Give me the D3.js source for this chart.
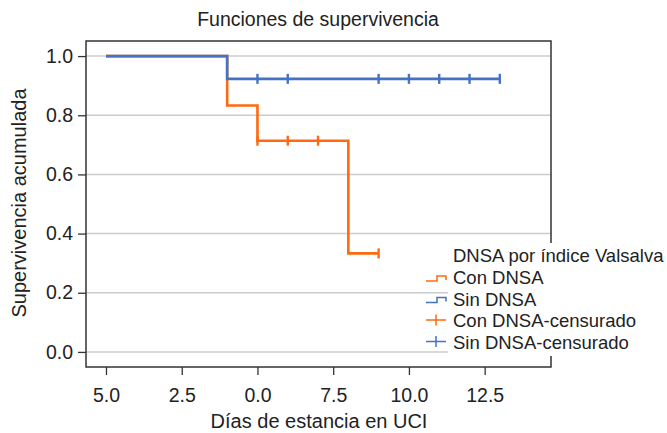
<!DOCTYPE html>
<html>
<head>
<meta charset="utf-8">
<script src="https://cdn.jsdelivr.net/npm/d3@7"></script>
<style>
  html, body { margin: 0; padding: 0; background: #fff; }
  svg { display: block; font-family: "Liberation Sans", Arial, Helvetica, sans-serif; }
</style>
</head>
<body>
<svg id="chart" width="667" height="433"></svg>
<script>
// Kaplan-Meier step data (time in days, cumulative survival)
const conTimes = [0, 4, 4, 5, 5, 8, 8, 9];
const conSurv  = [1.0, 1.0, 0.833, 0.833, 0.714, 0.714, 0.333, 0.333];
const sinTimes = [0, 4, 4, 13];
const sinSurv  = [1.0, 1.0, 0.923, 0.923];

// Censored observations
const conCensTimes = [5, 6, 7, 9];
const conCensSurv  = [0.714, 0.714, 0.714, 0.333];
const sinCensTimes = [5, 6, 9, 10, 11, 12, 13];
const sinCensSurv  = [0.923, 0.923, 0.923, 0.923, 0.923, 0.923, 0.923];

// Axis ticks
const xTickValues = [0, 2.5, 5, 7.5, 10, 12.5];
const xTickLabels = ["5.0", "2.5", "0.0", "7.5", "10.0", "12.5"];
const yTickValues = [0, 0.2, 0.4, 0.6, 0.8, 1.0];

const legendTitle = "DNSA por índice Valsalva";
const legendItems = ["Con DNSA", "Sin DNSA", "Con DNSA-censurado", "Sin DNSA-censurado"];

const ORANGE = "#ff6a10";
const BLUE = "#4472c4";
const TEXT = "#222";
const FONT = "'Liberation Sans', Arial, Helvetica, sans-serif";

const svg = d3.select("#chart");
const plotL = 86, plotR = 551, plotT = 41, plotB = 367;

const x = d3.scaleLinear().domain([-0.66, 14.69]).range([plotL, plotR]);
const y = d3.scaleLinear().domain([-0.051, 1.051]).range([plotB, plotT]);

// Title
svg.append("text")
  .attr("x", 318).attr("y", 26)
  .attr("text-anchor", "middle")
  .attr("font-size", 19.5).attr("fill", TEXT)
  .text("Funciones de supervivencia");

// Grid lines
svg.append("g").selectAll("line").data(yTickValues).join("line")
  .attr("x1", plotL).attr("x2", plotR)
  .attr("y1", d => y(d)).attr("y2", d => y(d))
  .attr("stroke", "#cccccc").attr("stroke-width", 1.5);

// Y axis
const yAxis = svg.append("g")
  .attr("transform", `translate(${plotL},0)`)
  .call(d3.axisLeft(y).tickValues(yTickValues).tickFormat(d3.format(".1f")).tickSize(8).tickSizeOuter(0));
yAxis.select(".domain").remove();
yAxis.selectAll(".tick line").attr("stroke", "#333").attr("stroke-width", 1.3);
yAxis.selectAll(".tick text")
  .attr("font-size", 19.5).attr("fill", TEXT)
  .attr("font-family", FONT)
  .attr("x", -13);

// X axis
const xAxis = svg.append("g")
  .attr("transform", `translate(0,${plotB})`)
  .call(d3.axisBottom(x).tickValues(xTickValues)
    .tickFormat((d, i) => xTickLabels[i]).tickSize(8).tickSizeOuter(0));
xAxis.select(".domain").remove();
xAxis.selectAll(".tick line").attr("stroke", "#333").attr("stroke-width", 1.3);
xAxis.selectAll(".tick text")
  .attr("font-size", 19.5).attr("fill", TEXT)
  .attr("font-family", FONT)
  .attr("y", 35).attr("dy", 0);

// Axis titles
svg.append("text")
  .attr("x", 319).attr("y", 428)
  .attr("text-anchor", "middle")
  .attr("font-size", 20).attr("fill", TEXT)
  .text("Días de estancia en UCI");
svg.append("text")
  .attr("transform", "translate(26,203) rotate(-90)")
  .attr("text-anchor", "middle")
  .attr("font-size", 20).attr("fill", TEXT)
  .text("Supervivencia acumulada");

// Survival curves
const line = d3.line().x(d => x(d[0])).y(d => y(d[1]));
svg.append("path")
  .datum(conTimes.map((t, i) => [t, conSurv[i]]))
  .attr("d", line).attr("fill", "none")
  .attr("stroke", ORANGE).attr("stroke-width", 2.6);
svg.append("path")
  .datum(sinTimes.map((t, i) => [t, sinSurv[i]]))
  .attr("d", line).attr("fill", "none")
  .attr("stroke", BLUE).attr("stroke-width", 2.6);

// Censor markers (vertical ticks)
function censor(times, surv, color) {
  svg.append("g").selectAll("line").data(times.map((t, i) => [t, surv[i]])).join("line")
    .attr("x1", d => x(d[0])).attr("x2", d => x(d[0]))
    .attr("y1", d => y(d[1]) - 5).attr("y2", d => y(d[1]) + 5)
    .attr("stroke", color).attr("stroke-width", 2.4);
}
censor(conCensTimes, conCensSurv, ORANGE);
censor(sinCensTimes, sinCensSurv, BLUE);

// Frame
svg.append("rect")
  .attr("x", plotL).attr("y", plotT)
  .attr("width", plotR - plotL).attr("height", plotB - plotT)
  .attr("fill", "none").attr("stroke", "#333").attr("stroke-width", 1.5);

// Legend
const lg = svg.append("g");
lg.append("rect")
  .attr("x", 448).attr("y", 243).attr("width", 219).attr("height", 113)
  .attr("fill", "#fff");
lg.append("text")
  .attr("x", 453).attr("y", 261.5)
  .attr("font-size", 18.5).attr("fill", TEXT)
  .text(legendTitle);
const rowBase = [284, 305.5, 327, 348.5];
const colors = [ORANGE, BLUE, ORANGE, BLUE];
legendItems.forEach((name, i) => {
  const b = rowBase[i];
  if (i < 2) {
    lg.append("path")
      .attr("d", `M426,${b - 3}H437V${b - 8}H446V${b - 4}`)
      .attr("fill", "none").attr("stroke", colors[i]).attr("stroke-width", 1.5);
  } else {
    const cy = b - 7;
    lg.append("path")
      .attr("d", `M426,${cy}H446M436,${cy - 5.5}V${cy + 5.5}`)
      .attr("fill", "none").attr("stroke", colors[i]).attr("stroke-width", 1.5);
  }
  lg.append("text")
    .attr("x", 453).attr("y", b)
    .attr("font-size", 18.5).attr("fill", TEXT)
    .text(name);
});
</script>
</body>
</html>
